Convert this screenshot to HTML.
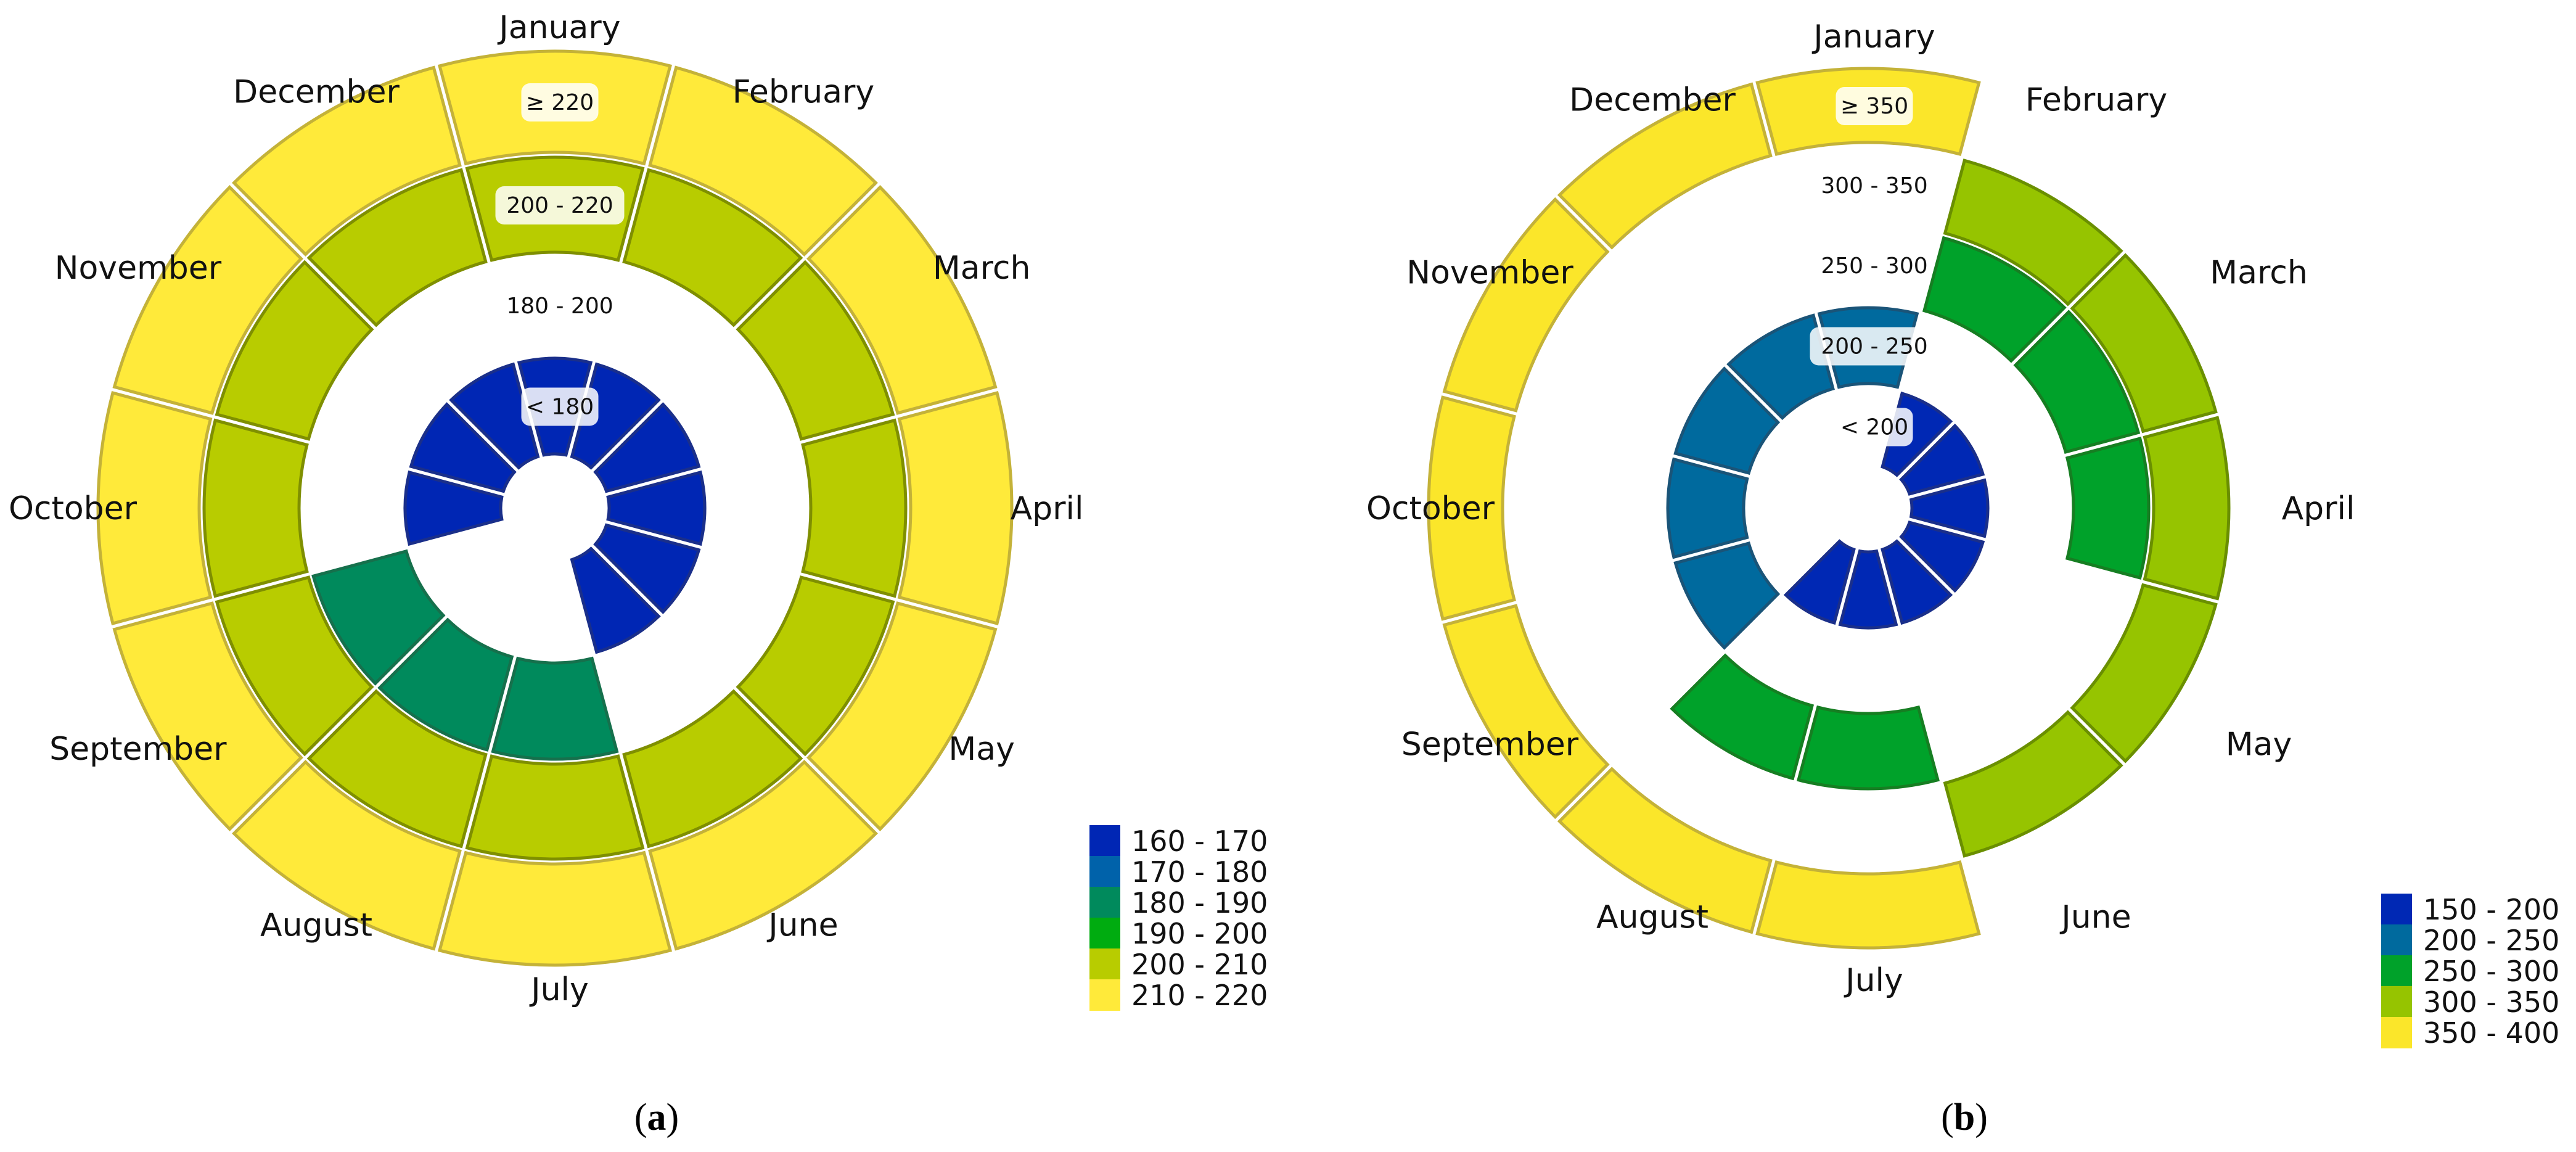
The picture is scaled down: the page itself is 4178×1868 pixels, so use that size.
<!DOCTYPE html>
<html><head><meta charset="utf-8">
<style>
html,body{margin:0;padding:0;background:#fff;}
svg{display:block;}
text{font-family:"DejaVu Sans","Liberation Sans",sans-serif;}
</style></head>
<body>
<svg id="fig" width="4178" height="1868" viewBox="0 0 4178 1868" xmlns="http://www.w3.org/2000/svg">
<g id="chartA"></g>
<g id="chartB"></g>
<text x="1065" y="1832" font-size="62" text-anchor="middle" style="font-family:'Liberation Serif',serif">(<tspan font-weight="bold">a</tspan>)</text>
<text x="3186" y="1832" font-size="62" text-anchor="middle" style="font-family:'Liberation Serif',serif">(<tspan font-weight="bold">b</tspan>)</text>
</svg>
<script>
const months = ["January","February","March","April","May","June","July","August","September","October","November","December"];
// Chart A: category index per month per ring (null = empty)
const legendA = ["160 - 170","170 - 180","180 - 190","190 - 200","200 - 210","210 - 220"];
const ringLabelsA = ["< 180","180 - 200","200 - 220","\u2265 220"];
const ringA1 = [0,0,0,0,0,0,null,null,null,0,0,0];
const ringA2 = [null,null,null,null,null,null,2,2,2,null,null,null];
const ringA3 = [4,4,4,4,4,4,4,4,4,4,4,4];
const ringA4 = [5,5,5,5,5,5,5,5,5,5,5,5];
// Chart B
const legendB = ["150 - 200","200 - 250","250 - 300","300 - 350","350 - 400"];
const ringLabelsB = ["< 200","200 - 250","250 - 300","300 - 350","\u2265 350"];
const ringB1 = [null,0,0,0,0,0,0,0,null,null,null,null];
const ringB2 = [1,null,null,null,null,null,null,null,1,1,1,1];
const ringB3 = [null,2,2,2,null,null,2,2,null,null,null,null];
const ringB4 = [null,3,3,3,3,3,null,null,null,null,null,null];
const ringB5 = [4,null,null,null,null,null,4,4,4,4,4,4];

const colA = ["#0026b4","#0062aa","#008a5c","#00ac10","#b8cc00","#ffea3a"];
const edgeA = ["#1a2f8a","#1d4f80","#16704c","#168a16","#7f8f00","#c4b238"];
const colB = ["#0028b4","#006a9e","#00a22a","#96c400","#fbe62a"];
const edgeB = ["#1a2f8a","#1a5478","#167e22","#6a8f00","#c4b238"];

const NS="http://www.w3.org/2000/svg";
function el(tag,attrs,parent){const e=document.createElementNS(NS,tag);for(const k in attrs)e.setAttribute(k,attrs[k]);parent.appendChild(e);return e;}
function pt(cx,cy,r,a){return [cx+r*Math.sin(a),cy-r*Math.cos(a)];}
function seg(cx,cy,r0,r1,i){
  const a0=(i*30-15)*Math.PI/180, a1=(i*30+15)*Math.PI/180;
  const ri=r0+3, ro=r1-3;
  const di=5/ri, dO=5/ro;
  const p1=pt(cx,cy,ro,a0+dO),p2=pt(cx,cy,ro,a1-dO),p3=pt(cx,cy,ri,a1-di),p4=pt(cx,cy,ri,a0+di);
  return `M${p1[0]},${p1[1]} A${ro},${ro} 0 0 1 ${p2[0]},${p2[1]} L${p3[0]},${p3[1]} A${ri},${ri} 0 0 0 ${p4[0]},${p4[1]} Z`;
}
function drawChart(g,cx,cy,rings,radii,cols,edges,ringLabels,boxes,lab,legend,leg){
  rings.forEach((ring,k)=>{
    ring.forEach((c,i)=>{
      if(c===null)return;
      const p=el('path',{d:seg(cx,cy,radii[k][0],radii[k][1],i),fill:cols[c],stroke:edges[c],'stroke-width':5},g);
      
      
    });
  });
  ringLabels.forEach((t,k)=>{
    const r=(radii[k][0]+radii[k][1])/2, y=cy-r, x=cx+lab.dx;
    if(boxes[k]){
      const w=t.length*21+20;
      const b=el('rect',{x:x-w/2,y:y-30,width:w,height:62,rx:14,fill:'#fff','fill-opacity':0.85},g);
      
      
    }
    const tx=el('text',{x:x,y:y+13,'font-size':36,'text-anchor':'middle',fill:'#111'},g);
    tx.textContent=t;
    
    
  });
  months.forEach((m,i)=>{
    const a=i*30*Math.PI/180;
    const x=cx+lab.dx+lab.rx*Math.sin(a), y=cy-lab.ry*Math.cos(a)+18;
    const t=el('text',{x:x,y:y,'font-size':52,'text-anchor':'middle',fill:'#111'},g);
    t.textContent=m;
    
    
  });
  legend.forEach((t,j)=>{
    const y=leg.y+j*50;
    const r=el('rect',{x:leg.x,y:y,width:50,height:51,fill:cols[j]},g);
    
    
    const tx=el('text',{x:leg.x+68,y:y+42,'font-size':46,fill:'#111'},g);
    tx.textContent=t;
    
    
  });
}
drawChart(document.getElementById('chartA'),900,824,[ringA1,ringA2,ringA3,ringA4],
  [[85,246],[248,410],[412,572],[574,744]],colA,edgeA,ringLabelsA,[true,false,true,true],
  {dx:8,rx:790,ry:780},legendA,{x:1767,y:1338});
drawChart(document.getElementById('chartB'),3030,824,[ringB1,ringB2,ringB3,ringB4,ringB5],
  [[68,197],[199,328],[330,458],[460,588],[590,716]],colB,edgeB,ringLabelsB,[true,true,false,false,true],
  {dx:10,rx:720,ry:765},legendB,{x:3862,y:1449});
</script>
</body></html>
